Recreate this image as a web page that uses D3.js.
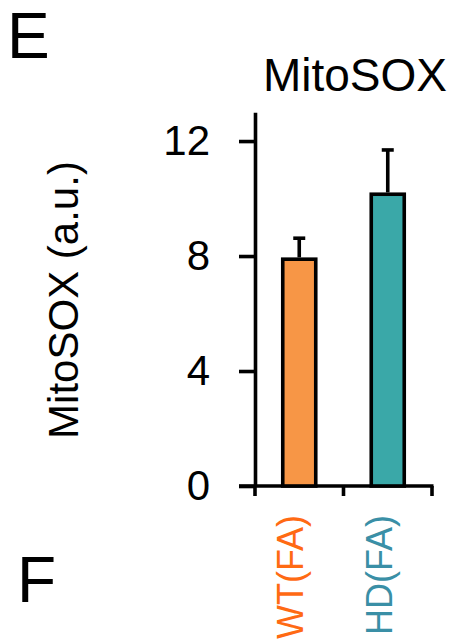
<!DOCTYPE html>
<html><head><meta charset="utf-8">
<script src="https://cdn.jsdelivr.net/npm/d3@7/dist/d3.min.js"></script>
<style>html,body{margin:0;padding:0;background:#fff;}svg{display:block;font-family:"Liberation Sans",Arial,sans-serif;}</style>
</head><body>
<svg id="c" width="460" height="644"></svg>
<script>
const categories = ["WT(FA)", "HD(FA)"];
const values = [7.89, 10.15];
const errors = [0.73, 1.54];
const yTicks = [0, 4, 8, 12];
const barColors = ["#F79646", "#3AA8A8"];
const labelColors = ["#FF6A13", "#3A8FA6"];

const svg = d3.select("#c");
const y = d3.scaleLinear().domain([0, 13]).range([486, 112.3]);
const x = d3.scaleBand().domain(categories).range([255, 432]).padding(0);
const barW = 33;
const sw = 3.6;

// Y axis
const yAxis = d3.axisLeft(y).tickValues(yTicks).tickSize(16).tickPadding(29).tickSizeOuter(0);
const gy = svg.append("g").attr("transform", "translate(255,0)").call(yAxis);
gy.select(".domain").attr("stroke", "#000").attr("stroke-width", sw);
gy.selectAll(".tick line").attr("stroke", "#000").attr("stroke-width", sw);
gy.selectAll(".tick text").attr("font-size", 42).attr("fill", "#000").attr("font-family", "Liberation Sans, Arial, sans-serif");

// X axis line and boundary ticks
svg.append("line").attr("x1", 239).attr("x2", x.range()[1] + 1.5).attr("y1", y(0)).attr("y2", y(0))
  .attr("stroke", "#000").attr("stroke-width", sw);
const bounds = [x.range()[0], x(categories[1]), x.range()[1]];
svg.selectAll(".xt").data(bounds).join("line")
  .attr("x1", d => d).attr("x2", d => d).attr("y1", y(0)).attr("y2", y(0) + 10)
  .attr("stroke", "#000").attr("stroke-width", sw);

// Bars
const cx = d => x(d) + x.bandwidth() / 2;
svg.selectAll(".bar").data(categories).join("rect")
  .attr("x", d => cx(d) - barW / 2)
  .attr("y", (d, i) => y(values[i]))
  .attr("width", barW)
  .attr("height", (d, i) => y(0) - y(values[i]))
  .attr("fill", (d, i) => barColors[i])
  .attr("stroke", "#000").attr("stroke-width", sw);

// Error bars
svg.selectAll(".err").data(categories).join("line")
  .attr("x1", d => cx(d)).attr("x2", d => cx(d))
  .attr("y1", (d, i) => y(values[i]) - sw / 2)
  .attr("y2", (d, i) => y(values[i] + errors[i]))
  .attr("stroke", "#000").attr("stroke-width", sw);
svg.selectAll(".cap").data(categories).join("line")
  .attr("x1", d => cx(d) - 6).attr("x2", d => cx(d) + 6)
  .attr("y1", (d, i) => y(values[i] + errors[i]))
  .attr("y2", (d, i) => y(values[i] + errors[i]))
  .attr("stroke", "#000").attr("stroke-width", sw);

// Category labels (rotated)
svg.selectAll(".xl").data(categories).join("text")
  .attr("transform", d => `translate(${cx(d) + 4},515) rotate(-90)`)
  .attr("text-anchor", "end")
  .attr("font-size", 36)
  .attr("fill", (d, i) => labelColors[i])
  .text(d => d);

// Y label
svg.append("text").attr("transform", "translate(78,300) rotate(-90)")
  .attr("text-anchor", "middle").attr("font-size", 42).attr("fill", "#000")
  .text("MitoSOX (a.u.)");

// Title
svg.append("text").attr("x", 355).attr("y", 91).attr("text-anchor", "middle")
  .attr("font-size", 46).attr("fill", "#000").text("MitoSOX");

// Panel letters
svg.append("text").attr("x", 7).attr("y", 58).attr("font-size", 64).attr("fill", "#000").text("E");
svg.append("text").attr("x", 17).attr("y", 602).attr("font-size", 64).attr("fill", "#000").text("F");
</script>
</body></html>
